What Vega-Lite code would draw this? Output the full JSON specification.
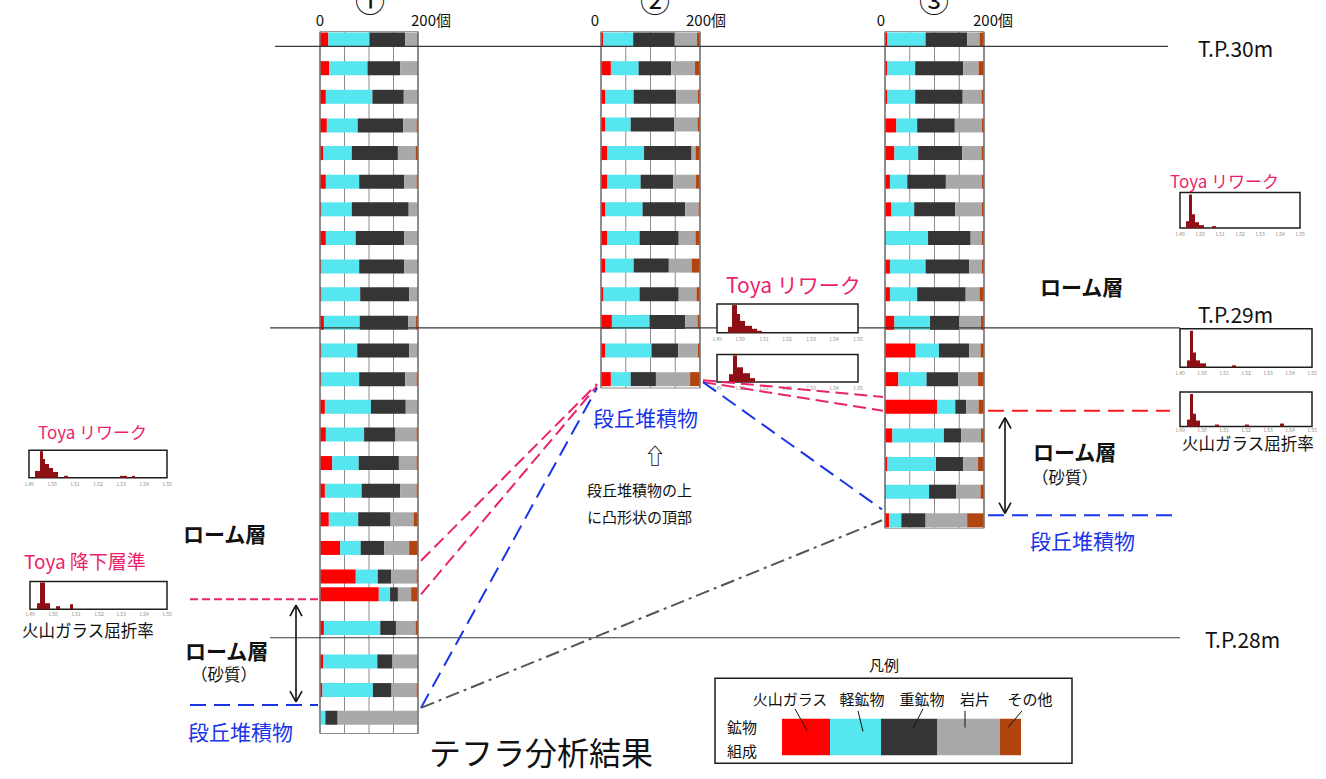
{
"$schema": "https://vega.github.io/schema/vega-lite/v6.json",
"width": 1326, "height": 779, "padding": 0, "autosize": {"type": "none"},
"background": "white",
"config": {"view": {"stroke": null}, "text": {"font": "Noto Sans CJK JP"}},
"datasets": {
"components": [{"comp":"glass","ord":1},{"comp":"light","ord":2},{"comp":"heavy","ord":3},{"comp":"lithic","ord":4},{"comp":"other","ord":5}],
"rows": [
{"col":1,"y":35,"glass":17,"light":84,"heavy":73,"lithic":24,"other":2},
{"col":1,"y":64,"glass":19,"light":78,"heavy":67,"lithic":34,"other":2},
{"col":1,"y":93,"glass":12,"light":95,"heavy":64,"lithic":27,"other":2},
{"col":1,"y":122,"glass":14,"light":63,"heavy":93,"lithic":27,"other":3},
{"col":1,"y":150,"glass":7,"light":58,"heavy":94,"lithic":36,"other":5},
{"col":1,"y":179,"glass":12,"light":68,"heavy":92,"lithic":25,"other":3},
{"col":1,"y":207,"glass":3,"light":62,"heavy":116,"lithic":19,"other":0},
{"col":1,"y":236,"glass":12,"light":61,"heavy":99,"lithic":27,"other":1},
{"col":1,"y":265,"glass":3,"light":77,"heavy":92,"lithic":26,"other":2},
{"col":1,"y":293,"glass":3,"light":79,"heavy":100,"lithic":16,"other":2},
{"col":1,"y":322,"glass":8,"light":73,"heavy":99,"lithic":16,"other":4},
{"col":1,"y":350,"glass":3,"light":73,"heavy":106,"lithic":16,"other":2},
{"col":1,"y":379,"glass":3,"light":77,"heavy":94,"lithic":23,"other":3},
{"col":1,"y":407,"glass":10,"light":94,"heavy":71,"lithic":23,"other":2},
{"col":1,"y":435,"glass":12,"light":78,"heavy":64,"lithic":43,"other":3},
{"col":1,"y":464,"glass":25,"light":54,"heavy":82,"lithic":36,"other":3},
{"col":1,"y":492,"glass":10,"light":75,"heavy":79,"lithic":33,"other":3},
{"col":1,"y":521,"glass":18,"light":60,"heavy":66,"lithic":47,"other":9},
{"col":1,"y":550,"glass":41,"light":42,"heavy":48,"lithic":51,"other":18},
{"col":1,"y":579,"glass":73,"light":45,"heavy":27,"lithic":52,"other":3},
{"col":1,"y":597,"glass":120,"light":23,"heavy":16,"lithic":27,"other":14},
{"col":1,"y":631,"glass":8,"light":115,"heavy":32,"lithic":40,"other":5},
{"col":1,"y":665,"glass":7,"light":110,"heavy":31,"lithic":50,"other":2},
{"col":1,"y":694,"glass":5,"light":103,"heavy":38,"lithic":51,"other":3},
{"col":1,"y":722,"glass":0,"light":11,"heavy":25,"lithic":164,"other":0},
{"col":2,"y":35,"glass":4,"light":61,"heavy":84,"lithic":45,"other":6},
{"col":2,"y":64,"glass":20,"light":56,"heavy":66,"lithic":48,"other":10},
{"col":2,"y":93,"glass":9,"light":57,"heavy":86,"lithic":44,"other":4},
{"col":2,"y":121,"glass":9,"light":51,"heavy":88,"lithic":47,"other":5},
{"col":2,"y":150,"glass":13,"light":74,"heavy":96,"lithic":8,"other":9},
{"col":2,"y":179,"glass":13,"light":67,"heavy":66,"lithic":46,"other":8},
{"col":2,"y":207,"glass":9,"light":75,"heavy":86,"lithic":27,"other":3},
{"col":2,"y":236,"glass":13,"light":65,"heavy":79,"lithic":34,"other":9},
{"col":2,"y":264,"glass":9,"light":57,"heavy":71,"lithic":46,"other":17},
{"col":2,"y":293,"glass":5,"light":73,"heavy":79,"lithic":36,"other":7},
{"col":2,"y":321,"glass":22,"light":76,"heavy":72,"lithic":25,"other":5},
{"col":2,"y":350,"glass":9,"light":93,"heavy":54,"lithic":40,"other":4},
{"col":2,"y":379,"glass":20,"light":40,"heavy":51,"lithic":69,"other":20},
{"col":3,"y":35,"glass":5,"light":77,"heavy":84,"lithic":25,"other":9},
{"col":3,"y":64,"glass":5,"light":56,"heavy":97,"lithic":31,"other":11},
{"col":3,"y":93,"glass":5,"light":56,"heavy":96,"lithic":38,"other":5},
{"col":3,"y":122,"glass":23,"light":42,"heavy":76,"lithic":55,"other":4},
{"col":3,"y":150,"glass":19,"light":48,"heavy":89,"lithic":39,"other":5},
{"col":3,"y":179,"glass":10,"light":35,"heavy":78,"lithic":73,"other":4},
{"col":3,"y":207,"glass":13,"light":46,"heavy":83,"lithic":54,"other":4},
{"col":3,"y":236,"glass":2,"light":85,"heavy":86,"lithic":23,"other":4},
{"col":3,"y":265,"glass":10,"light":72,"heavy":88,"lithic":26,"other":4},
{"col":3,"y":293,"glass":10,"light":55,"heavy":98,"lithic":28,"other":9},
{"col":3,"y":322,"glass":19,"light":72,"heavy":59,"lithic":44,"other":6},
{"col":3,"y":350,"glass":62,"light":47,"heavy":61,"lithic":23,"other":7},
{"col":3,"y":379,"glass":27,"light":57,"heavy":64,"lithic":40,"other":12},
{"col":3,"y":407,"glass":105,"light":37,"heavy":22,"lithic":25,"other":11},
{"col":3,"y":436,"glass":15,"light":104,"heavy":35,"lithic":40,"other":6},
{"col":3,"y":465,"glass":5,"light":98,"heavy":55,"lithic":30,"other":12},
{"col":3,"y":493,"glass":2,"light":87,"heavy":55,"lithic":49,"other":7},
{"col":3,"y":522,"glass":8,"light":25,"heavy":49,"lithic":84,"other":34}
]
},
"encoding": {"y": {"field": "y", "type": "quantitative", "scale": {"domain": [0, 779], "reverse": true, "nice": false, "zero": false}, "axis": null}},
"layer": [
{
"encoding": {"x": {"field": "n", "type": "quantitative", "scale": {"domain": [0, 200], "range": [320, 418], "nice": false, "zero": false}, "axis": null}},
"layer": [
{"data": {"values": [{"n":0,"n2":200,"y":27,"y2":738}]}, "mark": {"type": "rect", "fill": "white", "stroke": "#8c8c8c", "strokeWidth": 1}, "encoding": {"x2": {"field": "n2"}, "y2": {"field": "y2"}}},
{"data": {"values": [{"n":50,"y":27,"y2":738},{"n":100,"y":27,"y2":738},{"n":150,"y":27,"y2":738}]}, "mark": {"type": "rule", "stroke": "#8c8c8c", "strokeWidth": 1}, "encoding": {"y2": {"field": "y2"}}},
{"data": {"name": "rows"}, "transform": [{"filter": "datum.col == 1"}], "mark": {"type": "bar", "height": 15, "fillOpacity": 0, "stroke": "#a0a0a0", "strokeWidth": 0.8}, "encoding": {"x": {"datum": 0, "type": "quantitative", "axis": null}, "x2": {"datum": 200}}},
{"data": {"name": "rows"}, "transform": [{"filter": "datum.col == 1"}, {"fold": ["glass","light","heavy","lithic","other"], "as": ["comp","cnt"]}, {"lookup": "comp", "from": {"data": {"name": "components"}, "key": "comp", "fields": ["ord"]}}, {"stack": "cnt", "groupby": ["col","y"], "sort": [{"field": "ord", "order": "ascending"}], "as": ["n","n2"]}], "mark": {"type": "bar", "height": 14}, "encoding": {"x2": {"field": "n2"}, "color": {"field": "comp", "type": "nominal", "scale": {"domain": ["glass","light","heavy","lithic","other"], "range": ["#ff0000","#55e6f0","#353535","#a9a9a9","#b2440f"]}, "legend": null}}},
{"data": {"values": [{"n":0,"y":27,"y2":738},{"n":200,"y":27,"y2":738}]}, "mark": {"type": "rule", "stroke": "#7a7a7a", "strokeWidth": 1.5}, "encoding": {"y2": {"field": "y2"}}}
]
},
{
"encoding": {"x": {"field": "n", "type": "quantitative", "scale": {"domain": [0, 200], "range": [601, 700], "nice": false, "zero": false}, "axis": null}},
"layer": [
{"data": {"values": [{"n":0,"n2":200,"y":27,"y2":388}]}, "mark": {"type": "rect", "fill": "white", "stroke": "#8c8c8c", "strokeWidth": 1}, "encoding": {"x2": {"field": "n2"}, "y2": {"field": "y2"}}},
{"data": {"values": [{"n":50,"y":27,"y2":388},{"n":100,"y":27,"y2":388},{"n":150,"y":27,"y2":388}]}, "mark": {"type": "rule", "stroke": "#8c8c8c", "strokeWidth": 1}, "encoding": {"y2": {"field": "y2"}}},
{"data": {"name": "rows"}, "transform": [{"filter": "datum.col == 2"}], "mark": {"type": "bar", "height": 15, "fillOpacity": 0, "stroke": "#a0a0a0", "strokeWidth": 0.8}, "encoding": {"x": {"datum": 0, "type": "quantitative", "axis": null}, "x2": {"datum": 200}}},
{"data": {"name": "rows"}, "transform": [{"filter": "datum.col == 2"}, {"fold": ["glass","light","heavy","lithic","other"], "as": ["comp","cnt"]}, {"lookup": "comp", "from": {"data": {"name": "components"}, "key": "comp", "fields": ["ord"]}}, {"stack": "cnt", "groupby": ["col","y"], "sort": [{"field": "ord", "order": "ascending"}], "as": ["n","n2"]}], "mark": {"type": "bar", "height": 14}, "encoding": {"x2": {"field": "n2"}, "color": {"field": "comp", "type": "nominal", "scale": {"domain": ["glass","light","heavy","lithic","other"], "range": ["#ff0000","#55e6f0","#353535","#a9a9a9","#b2440f"]}, "legend": null}}},
{"data": {"values": [{"n":0,"y":27,"y2":388},{"n":200,"y":27,"y2":388}]}, "mark": {"type": "rule", "stroke": "#7a7a7a", "strokeWidth": 1.5}, "encoding": {"y2": {"field": "y2"}}}
]
},
{
"encoding": {"x": {"field": "n", "type": "quantitative", "scale": {"domain": [0, 200], "range": [885, 984], "nice": false, "zero": false}, "axis": null}},
"layer": [
{"data": {"values": [{"n":0,"n2":200,"y":27,"y2":530}]}, "mark": {"type": "rect", "fill": "white", "stroke": "#8c8c8c", "strokeWidth": 1}, "encoding": {"x2": {"field": "n2"}, "y2": {"field": "y2"}}},
{"data": {"values": [{"n":50,"y":27,"y2":530},{"n":100,"y":27,"y2":530},{"n":150,"y":27,"y2":530}]}, "mark": {"type": "rule", "stroke": "#8c8c8c", "strokeWidth": 1}, "encoding": {"y2": {"field": "y2"}}},
{"data": {"name": "rows"}, "transform": [{"filter": "datum.col == 3"}], "mark": {"type": "bar", "height": 15, "fillOpacity": 0, "stroke": "#a0a0a0", "strokeWidth": 0.8}, "encoding": {"x": {"datum": 0, "type": "quantitative", "axis": null}, "x2": {"datum": 200}}},
{"data": {"name": "rows"}, "transform": [{"filter": "datum.col == 3"}, {"fold": ["glass","light","heavy","lithic","other"], "as": ["comp","cnt"]}, {"lookup": "comp", "from": {"data": {"name": "components"}, "key": "comp", "fields": ["ord"]}}, {"stack": "cnt", "groupby": ["col","y"], "sort": [{"field": "ord", "order": "ascending"}], "as": ["n","n2"]}], "mark": {"type": "bar", "height": 14}, "encoding": {"x2": {"field": "n2"}, "color": {"field": "comp", "type": "nominal", "scale": {"domain": ["glass","light","heavy","lithic","other"], "range": ["#ff0000","#55e6f0","#353535","#a9a9a9","#b2440f"]}, "legend": null}}},
{"data": {"values": [{"n":0,"y":27,"y2":530},{"n":200,"y":27,"y2":530}]}, "mark": {"type": "rule", "stroke": "#7a7a7a", "strokeWidth": 1.5}, "encoding": {"y2": {"field": "y2"}}}
]
},
{
"encoding": {"x": {"field": "x", "type": "quantitative", "scale": {"domain": [0, 1326], "nice": false, "zero": false}, "axis": null}},
"layer": [
{"data": {"values": [{"x":275,"x2":1168,"y":42},{"x":270,"x2":1180,"y":327},{"x":270,"x2":1180,"y":641}]}, "mark": {"type": "rule", "stroke": "#3a3a3a", "strokeWidth": 1.2}, "encoding": {"x2": {"field": "x2"}}},
{"data": {"values": [{"x":1180,"x2":1300,"y":190,"y2":226},{"x":1180,"x2":1312,"y":328,"y2":367},{"x":1180,"x2":1312,"y":392,"y2":427},{"x":717,"x2":858,"y":303,"y2":332},{"x":717,"x2":858,"y":354,"y2":382},{"x":29,"x2":167,"y":451,"y2":479},{"x":30,"x2":167,"y":584,"y2":612}]}, "mark": {"type": "rect", "fill": "white", "stroke": "#1e1e1e", "strokeWidth": 1.5}, "encoding": {"x2": {"field": "x2"}, "y2": {"field": "y2"}}},
{"data": {"values": [
{"x":1186,"x2":1189,"y":219,"y2":226},{"x":1189,"x2":1192,"y":192,"y2":226},{"x":1192,"x2":1195,"y":212,"y2":226},{"x":1195,"x2":1199,"y":220,"y2":226},{"x":1199,"x2":1204,"y":223,"y2":226},{"x":1212,"x2":1216,"y":224,"y2":226},
{"x":1187,"x2":1190,"y":360,"y2":367},{"x":1190,"x2":1193,"y":330,"y2":367},{"x":1193,"x2":1196,"y":352,"y2":367},{"x":1196,"x2":1200,"y":360,"y2":367},{"x":1200,"x2":1206,"y":363,"y2":367},{"x":1232,"x2":1236,"y":365,"y2":367},
{"x":1187,"x2":1190,"y":420,"y2":427},{"x":1190,"x2":1193,"y":394,"y2":427},{"x":1193,"x2":1196,"y":414,"y2":427},{"x":1196,"x2":1200,"y":421,"y2":427},{"x":1215,"x2":1219,"y":425,"y2":427},{"x":1245,"x2":1249,"y":425,"y2":427},{"x":1280,"x2":1284,"y":424,"y2":427},
{"x":728,"x2":732,"y":326,"y2":332},{"x":732,"x2":737,"y":304,"y2":332},{"x":737,"x2":740,"y":313,"y2":332},{"x":740,"x2":745,"y":320,"y2":332},{"x":745,"x2":752,"y":325,"y2":332},{"x":752,"x2":757,"y":328,"y2":332},{"x":757,"x2":762,"y":330,"y2":332},
{"x":729,"x2":733,"y":374,"y2":382},{"x":733,"x2":737,"y":355,"y2":382},{"x":737,"x2":743,"y":367,"y2":382},{"x":743,"x2":750,"y":373,"y2":382},{"x":750,"x2":755,"y":378,"y2":382},
{"x":35,"x2":40,"y":472,"y2":479},{"x":40,"x2":43,"y":452,"y2":479},{"x":43,"x2":45,"y":460,"y2":479},{"x":45,"x2":49,"y":465,"y2":479},{"x":49,"x2":53,"y":469,"y2":479},{"x":53,"x2":58,"y":473,"y2":479},{"x":64,"x2":68,"y":477,"y2":479},{"x":120,"x2":127,"y":477,"y2":479},{"x":132,"x2":135,"y":477,"y2":479},
{"x":37,"x2":40,"y":606,"y2":612},{"x":40,"x2":45,"y":585,"y2":612},{"x":45,"x2":50,"y":606,"y2":612},{"x":56,"x2":60,"y":609,"y2":612},{"x":70,"x2":73,"y":607,"y2":612}
]}, "mark": {"type": "rect", "fill": "#8e0f14"}, "encoding": {"x2": {"field": "x2"}, "y2": {"field": "y2"}}},
{"data": {"values": [
{"x":1180,"y":232,"t":"1.49"},{"x":1200,"y":232,"t":"1.50"},{"x":1220,"y":232,"t":"1.51"},{"x":1240,"y":232,"t":"1.52"},{"x":1260,"y":232,"t":"1.53"},{"x":1280,"y":232,"t":"1.54"},{"x":1300,"y":232,"t":"1.55"},
{"x":1180,"y":373,"t":"1.49"},{"x":1202,"y":373,"t":"1.50"},{"x":1224,"y":373,"t":"1.51"},{"x":1246,"y":373,"t":"1.52"},{"x":1268,"y":373,"t":"1.53"},{"x":1290,"y":373,"t":"1.54"},{"x":1312,"y":373,"t":"1.55"},
{"x":1180,"y":431,"t":"1.49"},{"x":1202,"y":431,"t":"1.50"},{"x":1224,"y":431,"t":"1.51"},{"x":1246,"y":431,"t":"1.52"},{"x":1268,"y":431,"t":"1.53"},{"x":1290,"y":431,"t":"1.54"},{"x":1312,"y":431,"t":"1.55"},
{"x":717,"y":338,"t":"1.49"},{"x":740,"y":338,"t":"1.50"},{"x":764,"y":338,"t":"1.51"},{"x":787,"y":338,"t":"1.52"},{"x":811,"y":338,"t":"1.53"},{"x":834,"y":338,"t":"1.54"},{"x":858,"y":338,"t":"1.55"},
{"x":717,"y":388,"t":"1.49"},{"x":740,"y":388,"t":"1.50"},{"x":764,"y":388,"t":"1.51"},{"x":787,"y":388,"t":"1.52"},{"x":811,"y":388,"t":"1.53"},{"x":834,"y":388,"t":"1.54"},{"x":858,"y":388,"t":"1.55"},
{"x":29,"y":485,"t":"1.49"},{"x":52,"y":485,"t":"1.50"},{"x":75,"y":485,"t":"1.51"},{"x":98,"y":485,"t":"1.52"},{"x":121,"y":485,"t":"1.53"},{"x":144,"y":485,"t":"1.54"},{"x":167,"y":485,"t":"1.55"},
{"x":30,"y":617,"t":"1.49"},{"x":53,"y":617,"t":"1.50"},{"x":76,"y":617,"t":"1.51"},{"x":99,"y":617,"t":"1.52"},{"x":121,"y":617,"t":"1.53"},{"x":144,"y":617,"t":"1.54"},{"x":167,"y":617,"t":"1.55"}
]}, "mark": {"type": "text", "fontSize": 5, "fill": "#8a8a8a", "align": "center", "baseline": "middle"}, "encoding": {"text": {"field": "t"}}},
{"data": {"values": [{"x":715,"x2":1072,"y":682,"y2":768}]}, "mark": {"type": "rect", "fill": "white", "stroke": "#1e1e1e", "strokeWidth": 1.5}, "encoding": {"x2": {"field": "x2"}, "y2": {"field": "y2"}}},
{"data": {"values": [{"comp":"glass","x":782,"x2":830,"y":723,"y2":760},{"comp":"light","x":830,"x2":881,"y":723,"y2":760},{"comp":"heavy","x":881,"x2":937,"y":723,"y2":760},{"comp":"lithic","x":937,"x2":1000,"y":723,"y2":760},{"comp":"other","x":1000,"x2":1021,"y":723,"y2":760}]}, "mark": {"type": "rect"}, "encoding": {"x2": {"field": "x2"}, "y2": {"field": "y2"}, "color": {"field": "comp", "type": "nominal", "scale": {"domain": ["glass","light","heavy","lithic","other"], "range": ["#ff0000","#55e6f0","#353535","#a9a9a9","#b2440f"]}, "legend": null}}},
{"data": {"values": [{"x":795,"x2":807,"y":713,"y2":735},{"x":858,"x2":863,"y":715,"y2":736},{"x":923,"x2":913,"y":713,"y2":733},{"x":965,"x2":965,"y":715,"y2":732},{"x":1022,"x2":1008,"y":715,"y2":732}]}, "mark": {"type": "rule", "stroke": "#111", "strokeWidth": 1}, "encoding": {"x2": {"field": "x2"}, "y2": {"field": "y2"}}},
{"data": {"values": [{"x":421,"x2":597,"y":563,"y2":384},{"x":421,"x2":597,"y":597,"y2":386},{"x":703,"x2":883,"y":380,"y2":397},{"x":703,"x2":883,"y":382,"y2":411}]}, "mark": {"type": "rule", "stroke": "#e8246c", "strokeWidth": 2, "strokeDash": [13, 6]}, "encoding": {"x2": {"field": "x2"}, "y2": {"field": "y2"}}},
{"data": {"values": [{"x":190,"x2":320,"y":602,"y2":602}]}, "mark": {"type": "rule", "stroke": "#e8246c", "strokeWidth": 2, "strokeDash": [8, 4]}, "encoding": {"x2": {"field": "x2"}, "y2": {"field": "y2"}}},
{"data": {"values": [{"x":421,"x2":597,"y":712,"y2":388},{"x":703,"x2":882,"y":382,"y2":511},{"x":190,"x2":318,"y":709,"y2":709},{"x":988,"x2":1180,"y":517,"y2":517}]}, "mark": {"type": "rule", "stroke": "#1a35e8", "strokeWidth": 2, "strokeDash": [16, 8]}, "encoding": {"x2": {"field": "x2"}, "y2": {"field": "y2"}}},
{"data": {"values": [{"x":421,"x2":882,"y":712,"y2":522}]}, "mark": {"type": "rule", "stroke": "#555555", "strokeWidth": 2, "strokeDash": [14, 5, 3, 5]}, "encoding": {"x2": {"field": "x2"}, "y2": {"field": "y2"}}},
{"data": {"values": [{"x":988,"x2":1170,"y":411,"y2":411}]}, "mark": {"type": "rule", "stroke": "#ff1a1a", "strokeWidth": 2, "strokeDash": [16, 8]}, "encoding": {"x2": {"field": "x2"}, "y2": {"field": "y2"}}},
{"data": {"values": [
{"x":1005,"x2":1005,"y":418,"y2":515},{"x":1005,"x2":999,"y":418,"y2":429},{"x":1005,"x2":1011,"y":418,"y2":429},{"x":1005,"x2":999,"y":515,"y2":504},{"x":1005,"x2":1011,"y":515,"y2":504},
{"x":296,"x2":296,"y":608,"y2":706},{"x":296,"x2":290,"y":608,"y2":619},{"x":296,"x2":302,"y":608,"y2":619},{"x":296,"x2":290,"y":706,"y2":695},{"x":296,"x2":302,"y":706,"y2":695}
]}, "mark": {"type": "rule", "stroke": "#111", "strokeWidth": 1.6}, "encoding": {"x2": {"field": "x2"}, "y2": {"field": "y2"}}},
{"data": {"values": [{"x":370,"y":-2,"t":"①"},{"x":655,"y":-2,"t":"②"},{"x":934,"y":-2,"t":"③"}]}, "mark": {"type": "text", "fontSize": 30, "align": "center", "baseline": "middle", "fill": "#111"}, "encoding": {"text": {"field": "t"}}},
{"data": {"values": [{"x":320,"y":16,"t":"0"},{"x":595,"y":16,"t":"0"},{"x":881,"y":16,"t":"0"},{"x":884,"y":670,"t":"凡例"},{"x":790,"y":704,"t":"火山ガラス"},{"x":862,"y":704,"t":"軽鉱物"},{"x":922,"y":704,"t":"重鉱物"},{"x":975,"y":704,"t":"岩片"},{"x":1030,"y":704,"t":"その他"},{"x":742,"y":732,"t":"鉱物"},{"x":742,"y":757,"t":"組成"}]}, "mark": {"type": "text", "fontSize": 15, "align": "center", "baseline": "middle", "fill": "#111"}, "encoding": {"text": {"field": "t"}}},
{"data": {"values": [{"x":411,"y":16,"t":"200個"},{"x":686,"y":16,"t":"200個"},{"x":973,"y":16,"t":"200個"}]}, "mark": {"type": "text", "fontSize": 15, "align": "left", "baseline": "middle", "fill": "#111"}, "encoding": {"text": {"field": "t"}}},
{"data": {"values": [{"x":1198,"y":47,"t":"T.P.30m"},{"x":1198,"y":316,"t":"T.P.29m"},{"x":1205,"y":645,"t":"T.P.28m"}]}, "mark": {"type": "text", "fontSize": 21, "align": "left", "baseline": "middle", "fill": "#111"}, "encoding": {"text": {"field": "t"}}},
{"data": {"values": [{"x":1040,"y":288,"t":"ローム層"},{"x":183,"y":538,"t":"ローム層"},{"x":185,"y":656,"t":"ローム層"},{"x":1033,"y":455,"t":"ローム層"}]}, "mark": {"type": "text", "fontSize": 21, "fontWeight": "bold", "align": "left", "baseline": "middle", "fill": "#111"}, "encoding": {"text": {"field": "t"}}},
{"data": {"values": [{"x":191,"y":680,"t":"（砂質）"},{"x":1032,"y":480,"t":"（砂質）"},{"x":22,"y":635,"t":"火山ガラス屈折率"},{"x":1182,"y":446,"t":"火山ガラス屈折率"}]}, "mark": {"type": "text", "fontSize": 16.5, "align": "left", "baseline": "middle", "fill": "#111"}, "encoding": {"text": {"field": "t"}}},
{"data": {"values": [{"x":38,"y":435,"t":"Toya リワーク"},{"x":1170,"y":180,"t":"Toya リワーク"}]}, "mark": {"type": "text", "fontSize": 17, "align": "left", "baseline": "middle", "fill": "#ec1f6c"}, "encoding": {"text": {"field": "t"}}},
{"data": {"values": [{"x":24,"y":565,"t":"Toya 降下層準"}]}, "mark": {"type": "text", "fontSize": 19, "align": "left", "baseline": "middle", "fill": "#ec1f6c"}, "encoding": {"text": {"field": "t"}}},
{"data": {"values": [{"x":726,"y":286,"t":"Toya リワーク"}]}, "mark": {"type": "text", "fontSize": 21, "align": "left", "baseline": "middle", "fill": "#ec1f6c"}, "encoding": {"text": {"field": "t"}}},
{"data": {"values": [{"x":593,"y":420,"t":"段丘堆積物"},{"x":1030,"y":545,"t":"段丘堆積物"},{"x":188,"y":738,"t":"段丘堆積物"}]}, "mark": {"type": "text", "fontSize": 21, "align": "left", "baseline": "middle", "fill": "#1a35e8"}, "encoding": {"text": {"field": "t"}}},
{"data": {"values": [{"x":587,"y":492,"t":"段丘堆積物の上"},{"x":587,"y":520,"t":"に凸形状の頂部"}]}, "mark": {"type": "text", "fontSize": 15, "align": "left", "baseline": "middle", "fill": "#111"}, "encoding": {"text": {"field": "t"}}},
{"data": {"values": [{"x":655,"y":458,"t":"⇧"}]}, "mark": {"type": "text", "fontSize": 22, "align": "center", "baseline": "middle", "fill": "#111"}, "encoding": {"text": {"field": "t"}}},
{"data": {"values": [{"x":541,"y":760,"t":"テフラ分析結果"}]}, "mark": {"type": "text", "fontSize": 32, "align": "center", "baseline": "middle", "fill": "#111"}, "encoding": {"text": {"field": "t"}}}
]
}
],
"resolve": {"scale": {"x": "independent"}}
}
